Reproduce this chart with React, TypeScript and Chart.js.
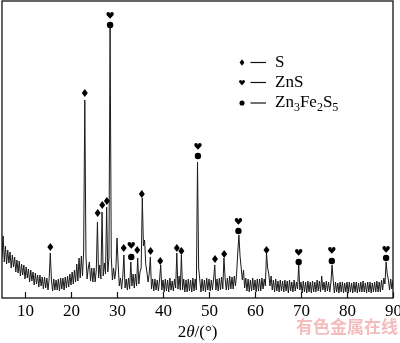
import React, { useEffect, useRef } from "react";
import { Chart, registerables } from "chart.js";

Chart.register(...registerables);

// Scan: 2θ from 5° to 90° in 0.25° steps
const SCAN_START = 5;
const SCAN_STEP = 0.25;
// intensity (arbitrary units), four readings per degree
const INTENSITY = [
  40, 62, 36, 52, // 5
  34, 48, 35, 46, // 6
  30, 43, 31, 41, // 7
  26, 38, 25, 37, // 8
  22, 34, 23, 33, // 9
  19, 31, 20, 29, // 10
  16, 28, 17, 26, // 11
  13, 25, 14, 23, // 12
  11, 23, 12, 21, // 13
  9, 21, 10, 20, // 14
  8, 19, 45, 18, // 15
  7, 19, 8, 18, // 16
  8, 19, 7, 20, // 17
  9, 20, 8, 21, // 18
  10, 22, 11, 24, // 19
  13, 26, 14, 28, // 20
  16, 34, 17, 40, // 21
  20, 42, 22, 47, // 22
  198, 42, 19, 30, // 23
  36, 17, 30, 16, // 24
  30, 16, 28, 76, // 25
  20, 33, 19, 86, // 26
  22, 35, 24, 91, // 27
  26, 40, 270, 42, // 28
  18, 30, 19, 28, // 29
  60, 34, 12, 20, // 30
  9, 21, 43, 10, // 31
  19, 8, 20, 9, // 32
  36, 12, 24, 10, // 33
  24, 12, 40, 14, // 34
  26, 30, 100, 52, // 35
  58, 34, 26, 16, // 36
  24, 41, 9, 19, // 37
  7, 19, 8, 18, // 38
  7, 18, 33, 8, // 39
  18, 6, 19, 7, // 40
  18, 6, 20, 8, // 41
  17, 7, 19, 10, // 42
  45, 9, 22, 8, // 43
  43, 8, 19, 6, // 44
  18, 6, 19, 7, // 45
  18, 6, 20, 7, // 46
  19, 8, 136, 30, // 47
  18, 6, 19, 7, // 48
  18, 6, 20, 8, // 49
  19, 7, 18, 8, // 50
  19, 33, 8, 19, // 51
  7, 20, 8, 21, // 52
  9, 40, 20, 8, // 53
  20, 8, 22, 9, // 54
  21, 9, 22, 12, // 55
  24, 45, 63, 42, // 56
  30, 18, 28, 10, // 57
  20, 7, 19, 6, // 58
  18, 7, 20, 8, // 59
  18, 6, 19, 7, // 60
  19, 7, 20, 9, // 61
  19, 12, 45, 30, // 62
  24, 12, 22, 8, // 63
  18, 6, 19, 7, // 64
  17, 6, 18, 7, // 65
  17, 6, 18, 7, // 66
  17, 5, 18, 7, // 67
  16, 6, 18, 7, // 68
  16, 9, 33, 8, // 69
  16, 5, 17, 6, // 70
  16, 5, 17, 6, // 71
  16, 5, 17, 6, // 72
  16, 6, 18, 7, // 73
  17, 6, 22, 8, // 74
  16, 6, 17, 7, // 75
  16, 6, 15, 33, // 76
  18, 5, 16, 6, // 77
  15, 5, 16, 6, // 78
  16, 5, 15, 6, // 79
  16, 5, 16, 6, // 80
  15, 5, 16, 6, // 81
  16, 5, 15, 6, // 82
  16, 6, 17, 6, // 83
  15, 5, 16, 6, // 84
  16, 5, 15, 6, // 85
  16, 6, 17, 6, // 86
  16, 6, 18, 8, // 87
  20, 14, 36, 24, // 88
  18, 8, 19, 9, // 89
  18, // 90
];

const X_MIN = 5;
const X_MAX = 90;
const Y_MAX = 297;
const X_TICKS = [10, 20, 30, 40, 50, 60, 70, 80, 90];

// phase markers (2θ, marker height in intensity units)
const S_PEAK_X = [15.5, 23.0, 25.8, 26.8, 27.8, 31.45, 34.4, 35.4, 37.3, 39.4, 43.0, 44.0, 51.3, 53.3, 62.5];
const S_MARK_Y = [51, 205, 85, 93, 97, 50, 48, 104, 47, 37, 50, 47, 39, 44, 48];
const ZNS_PEAK_X = [28.5, 33.1, 47.6, 56.4, 69.5, 76.7, 88.5];
const ZNS_MARK_Y = [283, 53, 152, 77, 46, 48, 49];
const ZFS_PEAK_X = [28.5, 33.1, 47.6, 56.4, 69.5, 76.7, 88.5];
const ZFS_MARK_Y = [273, 41, 142, 67, 36, 37, 40];

const LEGEND_LABELS = ["S", "ZnS", "Zn3Fe2S5"];
const LEGEND_SHAPES = ["diamond", "heart", "circle"];
const X_TITLE_PARTS = [
  { t: "2", italic: false },
  { t: "θ", italic: true },
  { t: "/(°)", italic: false },
];
const WATERMARK = "有色金属在线";

const SERIF = '"Liberation Serif", "Times New Roman", serif';

function drawDiamond(ctx: CanvasRenderingContext2D, x: number, y: number, w: number, h: number) {
  ctx.beginPath();
  ctx.moveTo(x, y - h / 2);
  ctx.lineTo(x + w / 2, y);
  ctx.lineTo(x, y + h / 2);
  ctx.lineTo(x - w / 2, y);
  ctx.closePath();
  ctx.fill();
}

function drawCircle(ctx: CanvasRenderingContext2D, x: number, y: number, r: number) {
  ctx.beginPath();
  ctx.arc(x, y, r, 0, Math.PI * 2);
  ctx.fill();
}

function drawHeart(ctx: CanvasRenderingContext2D, cx: number, cy: number, s: number) {
  const r = s / 4;
  const top = cy - s * 0.15;
  ctx.beginPath();
  ctx.moveTo(cx, cy + s * 0.5);
  ctx.bezierCurveTo(cx - s * 0.1, cy + s * 0.3, cx - s * 0.5, cy + s * 0.1, cx - s * 0.5, top);
  ctx.arc(cx - r, top, r, Math.PI, 0);
  ctx.arc(cx + r, top, r, Math.PI, 0);
  ctx.bezierCurveTo(cx + s * 0.5, cy + s * 0.1, cx + s * 0.1, cy + s * 0.3, cx, cy + s * 0.5);
  ctx.closePath();
  ctx.fill();
}

function drawShape(ctx: CanvasRenderingContext2D, shape: string, x: number, y: number, scale: number) {
  if (shape === "diamond") drawDiamond(ctx, x, y, 6 * scale, 8 * scale);
  else if (shape === "heart") drawHeart(ctx, x, y, 7.5 * scale);
  else drawCircle(ctx, x, y, 3.2 * scale);
}

const decorPlugin = {
  id: "xrdDecor",
  afterDatasetsDraw(chart: any) {
    const ctx: CanvasRenderingContext2D = chart.ctx;
    const { left, right, top, bottom } = chart.chartArea;
    const xs = chart.scales.x;
    const ys = chart.scales.y;
    ctx.save();

    // frame
    ctx.strokeStyle = "#111";
    ctx.lineWidth = 1.3;
    ctx.strokeRect(left, top, right - left, bottom - top);

    // inner ticks + labels
    ctx.fillStyle = "#000";
    ctx.font = `17px ${SERIF}`;
    ctx.textAlign = "center";
    ctx.textBaseline = "middle";
    ctx.lineWidth = 1.2;
    X_TICKS.forEach((v) => {
      const px = Math.round(xs.getPixelForValue(v)) + 0.5;
      ctx.beginPath();
      ctx.moveTo(px, bottom);
      ctx.lineTo(px, bottom - 6);
      ctx.stroke();
      ctx.fillText(String(v), px, bottom + 14);
    });

    // axis title
    let totalW = 0;
    const parts = X_TITLE_PARTS.map((p) => {
      ctx.font = `${p.italic ? "italic " : ""}17px ${SERIF}`;
      const w = ctx.measureText(p.t).width;
      totalW += w;
      return { ...p, w };
    });
    let tx = (left + right) / 2 - totalW / 2;
    ctx.textAlign = "left";
    parts.forEach((p) => {
      ctx.font = `${p.italic ? "italic " : ""}17px ${SERIF}`;
      ctx.fillText(p.t, tx, bottom + 35);
      tx += p.w;
    });

    // phase markers
    ctx.fillStyle = "#000";
    S_PEAK_X.forEach((x, i) => drawShape(ctx, "diamond", xs.getPixelForValue(x), ys.getPixelForValue(S_MARK_Y[i]), 1));
    ZNS_PEAK_X.forEach((x, i) => drawShape(ctx, "heart", xs.getPixelForValue(x), ys.getPixelForValue(ZNS_MARK_Y[i]), 1));
    ZFS_PEAK_X.forEach((x, i) => drawShape(ctx, "circle", xs.getPixelForValue(x), ys.getPixelForValue(ZFS_MARK_Y[i]), 1));

    // legend
    const lx = 242;
    const rowY = [62.5, 82.5, 103];
    LEGEND_LABELS.forEach((label, i) => {
      const y = rowY[i];
      drawShape(ctx, LEGEND_SHAPES[i], lx, y, 0.8);
      ctx.beginPath();
      ctx.lineWidth = 1.2;
      ctx.moveTo(250.5, y);
      ctx.lineTo(266, y);
      ctx.stroke();
      let x = 275;
      ctx.textBaseline = "middle";
      for (const ch of label.match(/[A-Za-z]+|\d+/g) || []) {
        const sub = /\d/.test(ch);
        ctx.font = sub ? `12px ${SERIF}` : `17px ${SERIF}`;
        ctx.fillText(ch, x, sub ? y + 5 : y);
        x += ctx.measureText(ch).width;
      }
    });

    // watermark
    ctx.font = 'bold 17px "Noto Sans CJK SC", sans-serif';
    ctx.fillStyle = "rgba(240, 160, 160, 0.7)";
    ctx.textAlign = "right";
    ctx.fillText(WATERMARK, 398, 327);

    ctx.restore();
  },
};

export default function App() {
  const ref = useRef<HTMLCanvasElement | null>(null);
  useEffect(() => {
    document.body.style.margin = "0";
    const points = INTENSITY.map((y, i) => ({ x: SCAN_START + i * SCAN_STEP, y }));
    const chart = new Chart(ref.current as HTMLCanvasElement, {
      type: "line",
      data: {
        datasets: [
          {
            data: points,
            borderColor: "#1a1a1a",
            borderWidth: 1,
            pointRadius: 0,
            tension: 0,
          },
        ],
      },
      options: {
        animation: false,
        responsive: false,
        devicePixelRatio: 1,
        layout: { padding: { left: 2, right: 7, top: 1, bottom: 45 } },
        plugins: { legend: { display: false }, tooltip: { enabled: false } },
        scales: {
          x: { type: "linear", min: X_MIN, max: X_MAX, display: false },
          y: { type: "linear", min: 0, max: Y_MAX, display: false },
        },
      },
      plugins: [decorPlugin],
    });
    return () => chart.destroy();
  }, []);
  return (
    <div style={{ width: 400, height: 343, background: "#fff" }}>
      <canvas ref={ref} width={400} height={343} />
    </div>
  );
}
